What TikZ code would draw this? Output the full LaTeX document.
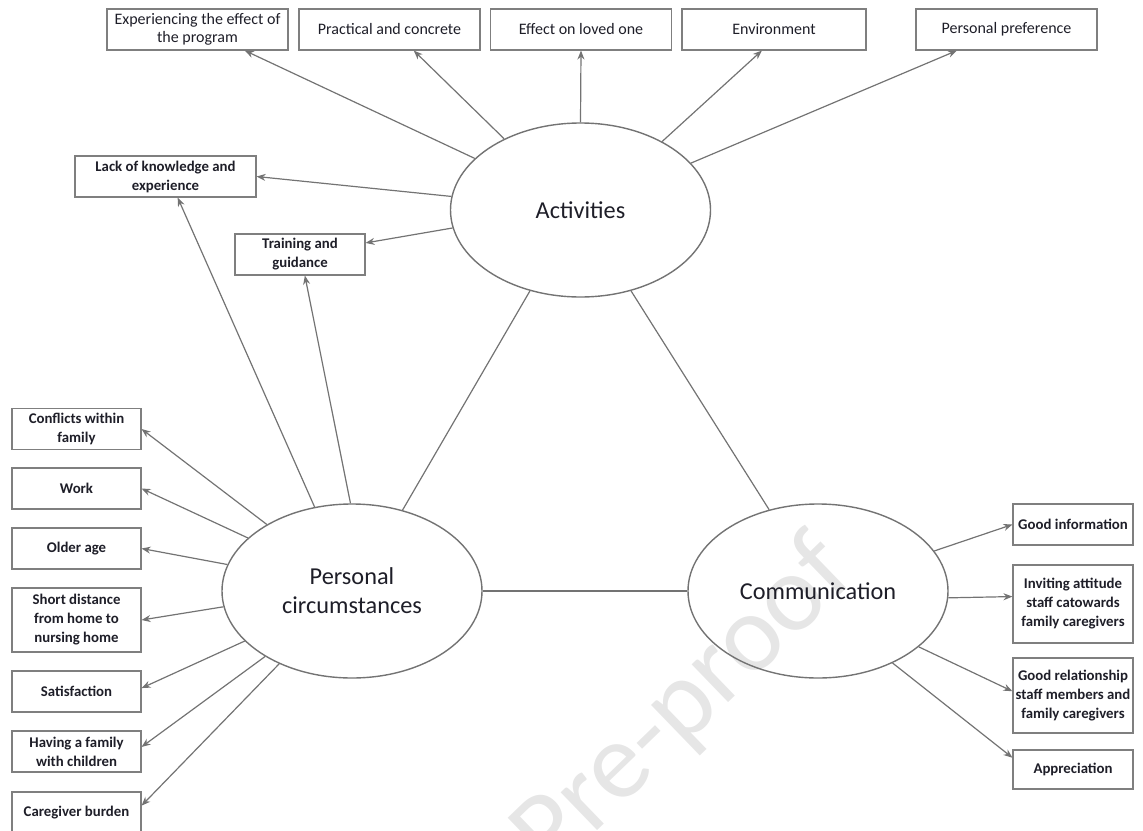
\documentclass[tikz,border=0pt]{standalone}
\usepackage{fontspec}
\setmainfont{Carlito}
\usetikzlibrary{arrows.meta,shapes.geometric}
\definecolor{linec}{HTML}{737373}
\definecolor{boxc}{HTML}{7F7F7F}
\definecolor{txt}{HTML}{1E1E28}
\definecolor{wm}{HTML}{E6E6E6}
\begin{document}
\begin{tikzpicture}[x=1pt,y=-1pt,
  ell/.style={ellipse, draw=linec, line width=1.4pt, minimum width=260pt, minimum height=174pt, inner sep=0pt, align=center, text=txt, font=\fontsize{24.3}{29}\selectfont},
  topbox/.style={draw=boxc, line width=1.1pt, minimum width=181pt, minimum height=41pt, inner sep=0pt, align=center, text=txt, font=\fontsize{16}{18.5}\selectfont},
  sidebox/.style={draw=boxc, line width=1.1pt, inner sep=0pt, align=center, text=txt, font=\bfseries\fontsize{14.8}{19}\selectfont},
  arr/.style={draw=linec, line width=1.2pt, -{Stealth[length=9pt,width=7pt]}},
  link/.style={draw=linec, line width=1.2pt}]
\useasboundingbox (0,0) rectangle (1143,830);
\clip (0,0) rectangle (1143,830);
% watermark
\node[text=wm, font=\fontsize{110}{110}\selectfont, rotate=44, anchor=east] (wmk) at (840,555) {Journal Pre-proof};
% ellipses
\node[ell] (act) at (580.5,210) {Activities};
\node[ell] (pers) at (352,591) {Personal\\circumstances};
\node[ell] (comm) at (818,591) {Communication};
% top boxes
\node[topbox] (exp) at (197.5,29.5) {Experiencing the effect of\\the program};
\node[topbox] (prac) at (389.5,29.5) {Practical and concrete};
\node[topbox] (eff) at (581,29.5) {Effect on loved one};
\node[topbox, minimum width=184pt] (env) at (774,29.5) {Environment};
\node[topbox] (pref) at (1006.5,29.5) {Personal preference};
% middle boxes
\node[sidebox, minimum width=181pt, minimum height=41pt] (lack) at (165.5,176.5) {Lack of knowledge and\\experience};
\node[sidebox, minimum width=130pt, minimum height=41pt] (train) at (300,254.5) {Training and\\guidance};
% left boxes
\node[sidebox, minimum width=129pt, minimum height=41pt] (conf) at (76.5,429) {Conflicts within\\family};
\node[sidebox, minimum width=129pt, minimum height=41pt] (work) at (76.5,488.5) {Work};
\node[sidebox, minimum width=129pt, minimum height=41pt] (old) at (76.5,548.5) {Older age};
\node[sidebox, minimum width=129pt, minimum height=64pt] (short) at (76.5,620) {Short distance\\from home to\\nursing home};
\node[sidebox, minimum width=129pt, minimum height=41pt] (sat) at (76.5,691.5) {Satisfaction};
\node[sidebox, minimum width=129pt, minimum height=41pt] (fam) at (76.5,751.5) {Having a family\\with children};
\node[sidebox, minimum width=129pt, minimum height=41pt] (burd) at (76.5,812.5) {Caregiver burden};
% right boxes
\node[sidebox, minimum width=120pt, minimum height=41pt] (info) at (1073,524.5) {Good information};
\node[sidebox, minimum width=120pt, minimum height=78pt] (invit) at (1073,604) {Inviting attitude\\staff catowards\\family caregivers};
\node[sidebox, minimum width=120pt, minimum height=75pt] (rel) at (1073,695.5) {Good relationship\\staff members and\\family caregivers};
\node[sidebox, minimum width=120pt, minimum height=39pt] (appr) at (1073,769.5) {Appreciation};
% connectors from Activities
\draw[arr] (act.154) -- (exp.-24);
\draw[arr] (act.137) -- (prac.-41.5);
\draw[arr] (act.90) -- (eff.south);
\draw[arr] (act.40) -- (env.-120);
\draw[arr] (act.23) -- (pref.-157.6);
\draw[arr] (act.174) -- (lack.east);
\draw[arr] (act.188) -- (train.10);
% links between ellipses
\draw[link] (act.238.7) -- (pers.58.8);
\draw[link] (act.302) -- (comm.121.8);
\draw[link] (pers.east) -- (comm.west);
% connectors from Personal circumstances
\draw[arr] (pers.114.7) -- (lack.-60);
\draw[arr] (pers.91) -- (train.-77);
\draw[arr] (pers.142.4) -- (conf.east);
\draw[arr] (pers.153.6) -- (work.east);
\draw[arr] (pers.168.4) -- (old.east);
\draw[arr] (pers.187.5) -- (short.east);
\draw[arr] (pers.205) -- (sat.3);
\draw[arr] (pers.217.5) -- (fam.4.3);
\draw[arr] (pers.225.8) -- (burd.6.7);
% connectors from Communication
\draw[arr] (comm.19) -- (info.west);
\draw[arr] (comm.357) -- (invit.173.3);
\draw[arr] (comm.331.8) -- (rel.176.4);
\draw[arr] (comm.316.8) -- (appr.169.1);
\end{tikzpicture}
\end{document}
